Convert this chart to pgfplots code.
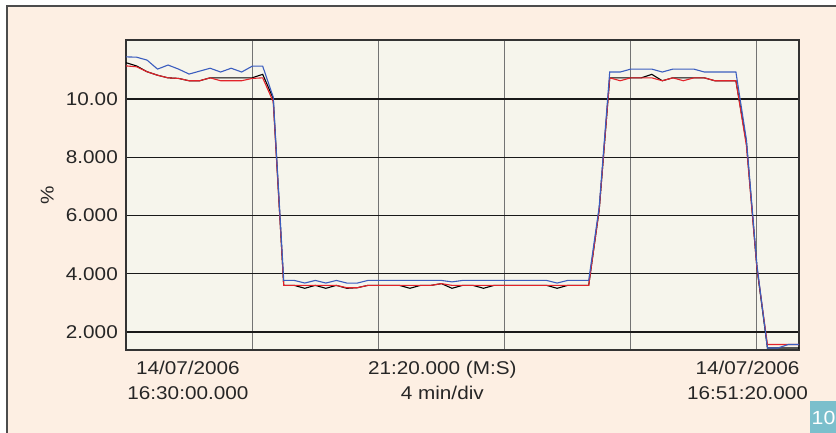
\documentclass[border=0pt]{standalone}
\usepackage{fontspec}
\setmainfont{Liberation Sans}[FakeStretch=1.12]
\usepackage{pgfplots}
\pgfplotsset{compat=1.18}

\definecolor{panelbg}{HTML}{FDEFE3}
\definecolor{plotbg}{HTML}{F6F5EC}
\definecolor{txt}{HTML}{262626}
\definecolor{bluel}{HTML}{3B5DBF}
\definecolor{redl}{HTML}{E3232A}
\definecolor{tealbox}{HTML}{7BBFCC}

\newcommand\fs{\fontsize{18.5}{24.7}\selectfont}

\begin{document}
\begin{tikzpicture}[x=1pt,y=1pt]
\useasboundingbox (0,0) rectangle (836,-433);
\fill[white] (0,0) rectangle (836,-433);
\fill[panelbg] (7,-6) rectangle (840,-440);
\draw[black!70, line width=1.4pt] (7,-440) -- (7,-6) -- (840,-6);
\begin{scope}
\clip (0,0) rectangle (836,-433);
\fill[tealbox] (810,-401) rectangle (840,-440);
\node[anchor=west, inner sep=0, white, font=\fontsize{19}{21}\selectfont] at (811.5,-418) {10};
\end{scope}

\begin{axis}[
at={(126pt,-350pt)}, anchor=south west,
scale only axis, width=673pt, height=310pt,
xmin=0, xmax=64, ymin=1.38, ymax=12.03,
xtick={12,24,36,48,60}, xticklabels={},
ytick={2,4,6,8,10}, yticklabels={2.000,4.000,6.000,8.000,10.00},
major tick length=0pt,
grid=major,
x grid style={black!55, line width=1pt},
y grid style={black!90, line width=1.2pt},
axis line style={black!80, line width=1.7pt},
axis background/.style={fill=plotbg},
/pgf/number format/assume math mode=true,
yticklabel style={font=\fs, text=txt, inner sep=0pt, xshift=-8pt},
ylabel={\%},
ylabel style={font=\fs, text=txt, at={(axis description cs:-0.117,0.5)}, anchor=center, rotate=0},
clip=false,
]
\addplot[black, line width=1.1pt] coordinates {
(0,11.25) (1,11.14) (2,10.94) (3,10.82) (4,10.73) (5,10.71) (6,10.63) (7,10.63)
(8,10.73) (9,10.73) (10,10.73) (11,10.73) (12,10.73) (13,10.85) (14,10.02)
(15,3.60) (16,3.60) (17,3.50) (18,3.60) (19,3.50) (20,3.60) (21,3.50) (22,3.52)
(23,3.60) (24,3.60) (25,3.60) (26,3.60) (27,3.50) (28,3.60) (29,3.60) (30,3.66)
(31,3.50) (32,3.60) (33,3.60) (34,3.50) (35,3.60) (36,3.60) (37,3.60) (38,3.60)
(39,3.60) (40,3.60) (41,3.50) (42,3.60) (43,3.60) (44,3.60) (45,6.20)
(46,10.73) (47,10.73) (48,10.73) (49,10.73) (50,10.85) (51,10.63) (52,10.73)
(53,10.73) (54,10.73) (55,10.73) (56,10.63) (57,10.63) (58,10.63) (59,8.50)
(60,4.20) (61,1.45) (62,1.45) (63,1.45) (64,1.45)
};
\addplot[redl, line width=1.1pt] coordinates {
(0,11.14) (1,11.11) (2,10.94) (3,10.82) (4,10.73) (5,10.71) (6,10.63) (7,10.63)
(8,10.73) (9,10.63) (10,10.63) (11,10.63) (12,10.71) (13,10.73) (14,9.91)
(15,3.60) (16,3.60) (17,3.60) (18,3.60) (19,3.60) (20,3.60) (21,3.52) (22,3.52)
(23,3.60) (24,3.60) (25,3.60) (26,3.60) (27,3.60) (28,3.60) (29,3.60) (30,3.66)
(31,3.60) (32,3.60) (33,3.60) (34,3.60) (35,3.60) (36,3.60) (37,3.60) (38,3.60)
(39,3.60) (40,3.60) (41,3.60) (42,3.60) (43,3.60) (44,3.60) (45,6.20)
(46,10.73) (47,10.63) (48,10.73) (49,10.73) (50,10.73) (51,10.63) (52,10.73)
(53,10.63) (54,10.73) (55,10.73) (56,10.63) (57,10.63) (58,10.63) (59,8.40)
(60,4.20) (61,1.57) (62,1.57) (63,1.57) (64,1.57)
};
\addplot[bluel, line width=1.1pt] coordinates {
(0,11.45) (1,11.44) (2,11.34) (3,11.03) (4,11.17) (5,11.03) (6,10.86) (7,10.96)
(8,11.06) (9,10.93) (10,11.06) (11,10.93) (12,11.13) (13,11.13) (14,10.07)
(15,3.77) (16,3.77) (17,3.68) (18,3.77) (19,3.68) (20,3.77) (21,3.68) (22,3.68)
(23,3.77) (24,3.77) (25,3.77) (26,3.77) (27,3.77) (28,3.77) (29,3.77) (30,3.77)
(31,3.72) (32,3.77) (33,3.77) (34,3.77) (35,3.77) (36,3.77) (37,3.77) (38,3.77)
(39,3.77) (40,3.77) (41,3.68) (42,3.77) (43,3.77) (44,3.77) (45,6.30)
(46,10.93) (47,10.93) (48,11.03) (49,11.03) (50,11.03) (51,10.93) (52,11.03)
(53,11.03) (54,11.03) (55,10.93) (56,10.93) (57,10.93) (58,10.93) (59,8.60)
(60,4.30) (61,1.45) (62,1.45) (63,1.57) (64,1.57)
};
\node[anchor=north, align=center, inner sep=0pt, font=\fs, text=txt, yshift=-11pt]
  at (rel axis cs:0.092,0) {14/07/2006\\16:30:00.000};
\node[anchor=north, align=center, inner sep=0pt, font=\fs, text=txt, yshift=-11pt]
  at (rel axis cs:0.470,0) {21:20.000 (M:S)\\4 min/div};
\node[anchor=north, align=center, inner sep=0pt, font=\fs, text=txt, yshift=-11pt]
  at (rel axis cs:0.9235,0) {14/07/2006\\16:51:20.000};
\end{axis}
\end{tikzpicture}
\end{document}
